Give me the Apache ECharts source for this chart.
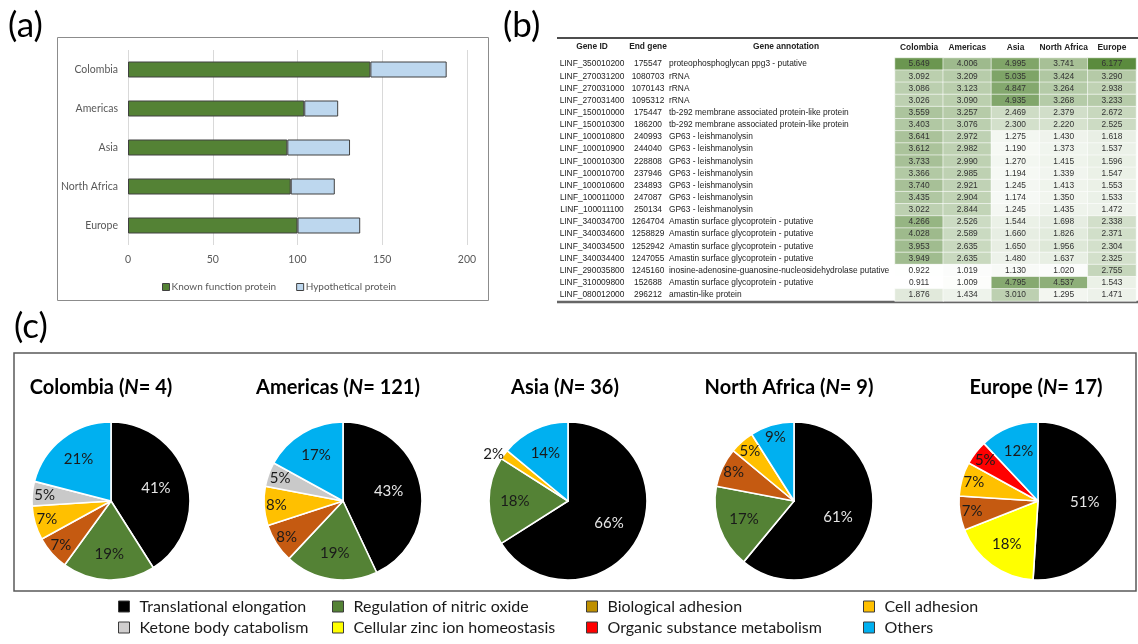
<!DOCTYPE html>
<html>
<head>
<meta charset="utf-8">
<script src="https://cdn.jsdelivr.net/npm/echarts@6/dist/echarts.min.js"></script>
<style>
  html, body { margin: 0; padding: 0; background: #ffffff; }
  #chart { width: 1138px; height: 644px; }
</style>
</head>
<body>
<div id="chart"></div>
<script>
// ---------- (a) protein counts per region ----------
const barRegions = ['Colombia', 'Americas', 'Asia', 'North Africa', 'Europe'];
const knownFunction = [143, 104, 94, 96, 100];
const hypothetical = [45, 20, 37, 26, 37];
const barAxisMax = 200;
const barAxisStep = 50;

// ---------- (b) gene copy-number table ----------
const geneIds = ['LINF_350010200', 'LINF_270031200', 'LINF_270031000', 'LINF_270031400', 'LINF_150010000',
  'LINF_150010300', 'LINF_100010800', 'LINF_100010900', 'LINF_100010300', 'LINF_100010700',
  'LINF_100010600', 'LINF_100011000', 'LINF_100011100', 'LINF_340034700', 'LINF_340034600',
  'LINF_340034500', 'LINF_340034400', 'LINF_290035800', 'LINF_310009800', 'LINF_080012000'];
const endGenes = ['175547', '1080703', '1070143', '1095312', '175447', '186200', '240993', '244040',
  '228808', '237946', '234893', '247087', '250134', '1264704', '1258829', '1252942', '1247055',
  '1245160', '152688', '296212'];
const annotations = ['proteophosphoglycan ppg3 - putative', 'rRNA', 'rRNA', 'rRNA',
  'tb-292 membrane associated protein-like protein', 'tb-292 membrane associated protein-like protein',
  'GP63 - leishmanolysin', 'GP63 - leishmanolysin', 'GP63 - leishmanolysin', 'GP63 - leishmanolysin',
  'GP63 - leishmanolysin', 'GP63 - leishmanolysin', 'GP63 - leishmanolysin',
  'Amastin surface glycoprotein - putative', 'Amastin surface glycoprotein - putative',
  'Amastin surface glycoprotein - putative', 'Amastin surface glycoprotein - putative',
  'inosine-adenosine-guanosine-nucleosidehydrolase putative',
  'Amastin surface glycoprotein - putative', 'amastin-like protein'];
const tableRegions = ['Colombia', 'Americas', 'Asia', 'North Africa', 'Europe'];
const valColombia = [5.649, 3.092, 3.086, 3.026, 3.559, 3.403, 3.641, 3.612, 3.733, 3.366, 3.740, 3.435, 3.022, 4.266, 4.028, 3.953, 3.949, 0.922, 0.911, 1.876];
const valAmericas = [4.006, 3.209, 3.123, 3.090, 3.257, 3.076, 2.972, 2.982, 2.990, 2.985, 2.921, 2.904, 2.844, 2.526, 2.589, 2.635, 2.635, 1.019, 1.009, 1.434];
const valAsia = [4.995, 5.035, 4.847, 4.935, 2.469, 2.300, 1.275, 1.190, 1.270, 1.194, 1.245, 1.174, 1.245, 1.544, 1.660, 1.650, 1.480, 1.130, 4.795, 3.010];
const valNorthAfrica = [3.741, 3.424, 3.264, 3.268, 2.379, 2.220, 1.430, 1.373, 1.415, 1.339, 1.413, 1.350, 1.435, 1.698, 1.826, 1.956, 1.637, 1.020, 4.537, 1.295];
const valEurope = [6.177, 3.290, 2.938, 3.233, 2.672, 2.525, 1.618, 1.537, 1.596, 1.547, 1.553, 1.533, 1.472, 2.338, 2.371, 2.304, 2.325, 2.755, 1.543, 1.471];

// ---------- (c) functional categories per region ----------
const pieRegions = ['Colombia', 'Americas', 'Asia', 'North Africa', 'Europe'];
const pieN = [4, 121, 36, 9, 17];
// slices listed clockwise from 12 o'clock: [category, percent]
const pieColombia = [['Translational elongation', 41], ['Regulation of nitric oxide', 19], ['Biological adhesion', 7], ['Cell adhesion', 7], ['Ketone body catabolism', 5], ['Others', 21]];
const pieAmericas = [['Translational elongation', 43], ['Regulation of nitric oxide', 19], ['Biological adhesion', 8], ['Cell adhesion', 8], ['Ketone body catabolism', 5], ['Others', 17]];
const pieAsia = [['Translational elongation', 66], ['Regulation of nitric oxide', 18], ['Cell adhesion', 2], ['Others', 14]];
const pieNorthAfrica = [['Translational elongation', 61], ['Regulation of nitric oxide', 17], ['Biological adhesion', 8], ['Cell adhesion', 5], ['Others', 9]];
const pieEurope = [['Translational elongation', 51], ['Cellular zinc ion homeostasis', 18], ['Biological adhesion', 7], ['Cell adhesion', 7], ['Organic substance metabolism', 5], ['Others', 12]];
const legendColumns = [
  ['Translational elongation', 'Ketone body catabolism'],
  ['Regulation of nitric oxide', 'Cellular zinc ion homeostasis'],
  ['Biological adhesion', 'Organic substance metabolism'],
  ['Cell adhesion', 'Others']
];

// ---------- styling ----------
const sliceColors = {
  'Translational elongation': '#000000',
  'Ketone body catabolism': '#c9c9c9',
  'Regulation of nitric oxide': '#548235',
  'Cellular zinc ion homeostasis': '#ffff00',
  'Biological adhesion': '#c55a11',
  'Organic substance metabolism': '#ff0000',
  'Cell adhesion': '#ffc000',
  'Others': '#00b0f0'
};
const legendSwatch = Object.assign({}, sliceColors, { 'Biological adhesion': '#bf9000', 'Ketone body catabolism': '#d0cece' });
const SANS = 'Lato, "Open Sans", sans-serif';
const TABLE_FONT = '"Liberation Sans", Arial, sans-serif';
const TABLE_SIZE = 8.4;
const pieCenters = [[111, 501], [343, 501], [568, 501], [794, 501], [1038, 501]];
const pieTitleX = [101, 338, 565, 789, 1036];
const pieRadius = 79;
const legendLefts = [118, 332, 586, 863];

// ---------- build ----------
const tableColumns = [valColombia, valAmericas, valAsia, valNorthAfrica, valEurope];
const heatData = [];
tableColumns.forEach((col, c) => col.forEach((v, r) => heatData.push([c, r, v])));

const pieSets = [pieColombia, pieAmericas, pieAsia, pieNorthAfrica, pieEurope];

function pieLabelLayout(center, values) {
  return function (p) {
    const v = values[p.dataIndex];
    if (v < 3) return {};
    const f = v >= 40 ? 1.1 : (v >= 10 ? 1.25 : 1.57);
    const lx = p.labelRect.x + p.labelRect.width / 2;
    const ly = p.labelRect.y + p.labelRect.height / 2;
    return { x: center[0] + f * (lx - center[0]), y: center[1] + f * (ly - center[1]) };
  };
}

const pieSeries = pieSets.map((set, i) => {
  const values = set.map(d => d[1]);
  return {
    type: 'pie',
    name: pieRegions[i],
    center: pieCenters[i],
    radius: pieRadius,
    startAngle: 90,
    clockwise: true,
    avoidLabelOverlap: false,
    animation: false,
    itemStyle: { borderColor: '#ffffff', borderWidth: 1.6 },
    label: {
      show: true, position: 'inside', formatter: '{c}%',
      fontFamily: SANS, fontSize: 15, color: '#1a1a1a'
    },
    labelLine: { show: false },
    labelLayout: pieLabelLayout(pieCenters[i], values),
    emphasis: { disabled: true },
    data: set.map(([name, value]) => {
      const item = { name, value, itemStyle: { color: sliceColors[name] } };
      if (name === 'Translational elongation') item.label = { color: '#e6e6e6' };
      if (value < 3) {
        item.label = { position: 'outside', distanceToLabelLine: 0 };
        item.labelLine = { show: false, length: 0, length2: 0 };
      }
      return item;
    })
  };
});

const pieLegends = legendColumns.map((col, i) => ({
  orient: 'vertical',
  left: legendLefts[i],
  top: 598,
  padding: 0,
  height: 44,
  itemWidth: 11,
  itemHeight: 11,
  itemGap: 4,
  icon: 'rect',
  selectedMode: false,
  itemStyle: { borderColor: '#3a3a3a', borderWidth: 1 },
  textStyle: { fontFamily: SANS, fontSize: 16, color: '#1a1a1a', lineHeight: 17, padding: [0, 0, 0, 5] },
  data: col.map(name => ({ name, itemStyle: { color: legendSwatch[name] } }))
}));

function txt(x, y, text, extra) {
  return {
    type: 'text', x, y, silent: true,
    style: Object.assign({
      text, fill: '#000', align: 'left', verticalAlign: 'middle',
      textAlign: 'left', textVerticalAlign: 'middle'
    }, extra || {})
  };
}

const headStyle = { fontFamily: TABLE_FONT, fontSize: TABLE_SIZE, fontWeight: 'bold', fill: '#222', align: 'center', textAlign: 'center' };
const graphics = [
  // panel letters
  txt(8, 26, '(a)', { fontFamily: SANS, fontSize: 35 }),
  txt(503, 26, '(b)', { fontFamily: SANS, fontSize: 35 }),
  txt(14, 327, '(c)', { fontFamily: SANS, fontSize: 35 }),
  // panel (a) frame
  { type: 'rect', shape: { x: 57.5, y: 37.5, width: 431, height: 263 }, style: { fill: 'none', stroke: '#8c8c8c', lineWidth: 1 }, silent: true },
  // table rules
  { type: 'line', shape: { x1: 557, y1: 38, x2: 1138, y2: 38 }, style: { stroke: '#4d4d4d', lineWidth: 2 }, silent: true },
  { type: 'line', shape: { x1: 557, y1: 302, x2: 1138, y2: 302 }, style: { stroke: '#666666', lineWidth: 2.5 }, silent: true },
  // table headers for the text columns
  txt(592, 47, 'Gene ID', headStyle),
  txt(648, 47, 'End gene', headStyle),
  txt(786, 47, 'Gene annotation', headStyle),
  // panel (c) frame
  { type: 'rect', shape: { x: 14, y: 353, width: 1122, height: 238 }, style: { fill: 'none', stroke: '#595959', lineWidth: 1.5 }, silent: true }
];
pieRegions.forEach((r, i) => {
  graphics.push({
    type: 'text', x: pieTitleX[i], y: 388, silent: true,
    style: {
      text: '{t|' + r + ' (}{i|N}{t|= ' + pieN[i] + ')}',
      align: 'center', verticalAlign: 'middle', textAlign: 'center', textVerticalAlign: 'middle',
      rich: {
        t: { fontFamily: SANS, fontSize: 20, fontWeight: 'bold', fill: '#000', color: '#000' },
        i: { fontFamily: SANS, fontSize: 20, fontWeight: 'bold', fontStyle: 'italic', fill: '#000', color: '#000' }
      }
    }
  });
});

// text columns of the table share the heatmap's row axis
function tableTextAxis(margin, align, formatter) {
  return {
    gridIndex: 1, type: 'category', position: 'left', offset: 0, data: geneIds, inverse: true,
    axisLine: { show: false }, axisTick: { show: false }, splitLine: { show: false },
    axisLabel: { fontFamily: TABLE_FONT, fontSize: TABLE_SIZE, color: '#222', margin, align, interval: 0, formatter }
  };
}

const option = {
  animation: false,
  backgroundColor: '#ffffff',
  textStyle: { fontFamily: SANS },
  grid: [
    { left: 128, top: 50, width: 339, height: 195, outerBoundsMode: 'none', containLabel: false },
    { left: 895, top: 58, width: 241, height: 243, outerBoundsMode: 'none', containLabel: false }
  ],
  xAxis: [
    {
      gridIndex: 0, type: 'value', min: 0, max: barAxisMax, interval: barAxisStep,
      axisLine: { show: false }, axisTick: { show: false },
      axisLabel: { fontFamily: SANS, fontSize: 10.5, color: '#595959', margin: 9 },
      splitLine: { lineStyle: { color: '#d9d9d9', width: 1 } }
    },
    {
      gridIndex: 1, type: 'category', position: 'top', data: tableRegions,
      axisLine: { show: false }, axisTick: { show: false }, splitLine: { show: false },
      axisLabel: { fontFamily: TABLE_FONT, fontSize: TABLE_SIZE, fontWeight: 'bold', color: '#222', margin: 6.5, interval: 0 }
    }
  ],
  yAxis: [
    {
      gridIndex: 0, type: 'category', data: barRegions, inverse: true,
      axisLine: { show: false }, axisTick: { show: false },
      axisLabel: { fontFamily: SANS, fontSize: 10.5, color: '#595959', margin: 10 }
    },
    tableTextAxis(303, 'center', v => v),
    tableTextAxis(247, 'center', (v, i) => endGenes[i]),
    tableTextAxis(226, 'left', (v, i) => annotations[i])
  ],
  visualMap: {
    show: false, type: 'continuous', seriesIndex: 2, dimension: 2,
    min: 0.9, max: 6.2, inRange: { color: ['#ffffff', '#5a8a3c'] }
  },
  legend: [
    {
      left: 157, top: 277, itemWidth: 7, itemHeight: 7, itemGap: 20, icon: 'rect', selectedMode: false,
      itemStyle: { borderColor: '#404040', borderWidth: 1 },
      textStyle: { fontFamily: SANS, fontSize: 10, color: '#595959', padding: [0, 0, 0, -3] },
      data: ['Known function protein', 'Hypothetical protein']
    }
  ].concat(pieLegends),
  graphic: graphics,
  series: [
    {
      type: 'bar', name: 'Known function protein', stack: 'proteins', xAxisIndex: 0, yAxisIndex: 0,
      barWidth: 16, data: knownFunction,
      itemStyle: { color: '#548235', borderColor: '#404040', borderWidth: 1 }
    },
    {
      type: 'bar', name: 'Hypothetical protein', stack: 'proteins', xAxisIndex: 0, yAxisIndex: 0,
      barWidth: 16, data: hypothetical,
      itemStyle: { color: '#bdd7ee', borderColor: '#404040', borderWidth: 1 }
    },
    {
      type: 'heatmap', xAxisIndex: 1, yAxisIndex: 1, data: heatData,
      itemStyle: { borderColor: '#ffffff', borderWidth: 0.6 },
      label: {
        show: true, fontFamily: TABLE_FONT, fontSize: TABLE_SIZE, color: '#333',
        formatter: p => p.value[2].toFixed(3)
      },
      emphasis: { disabled: true }
    }
  ].concat(pieSeries)
};

const chart = echarts.init(document.getElementById('chart'), null, { renderer: 'canvas' });
chart.setOption(option);
</script>
</body>
</html>
